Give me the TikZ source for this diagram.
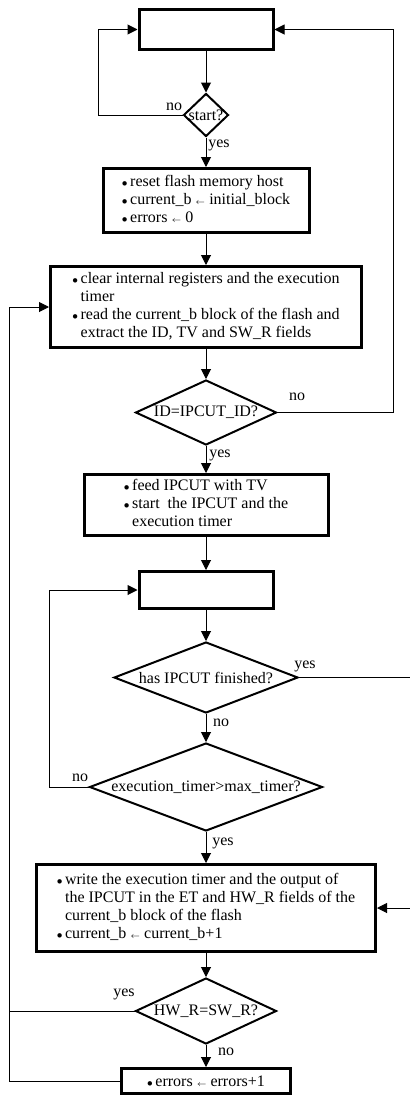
\documentclass[tikz,border=0pt]{standalone}
\usepackage{fontspec}
\setmainfont{Liberation Serif}
\usetikzlibrary{shapes.geometric,arrows.meta}
\def\dotitem{$\scriptstyle\bullet$}
\def\getsto{$\scriptscriptstyle\leftarrow$}

\begin{document}
\begin{tikzpicture}[x=0.75pt,y=-0.75pt,
	every node/.style={font=\fontsize{12}{13.5}\selectfont},
	stepbox/.style={draw,line width=2.25pt,inner sep=0pt},
	test/.style={draw,diamond,line width=1.5pt,inner sep=0pt},
	flow/.style={line width=0.75pt,-{Triangle[length=7.5pt,width=7.5pt]}},
	link/.style={line width=0.75pt}]
	\useasboundingbox (0,0) rectangle (410,1096);
	\coordinate (leftrail) at (98,0);
	\coordinate (rightrail) at (393,0);
	\coordinate (waitrail) at (49,0);
	\coordinate (donerail) at (412,0);
	\coordinate (outerrail) at (9,0);

	\node[stepbox,minimum width=100.5pt,minimum height=30pt] (idle) at (206,29.5) {};
	\node[test,minimum width=33.75pt,minimum height=32.25pt] (start) at (206,115) {\makebox[0pt]{start?}};
	\node[stepbox,minimum width=154.5pt,minimum height=48pt] (init) at (206,200.5) {%
		\begin{tabular}{@{}c@{\,}l@{}}
		\dotitem & reset flash memory host\\
		\dotitem & current\_b \getsto{} initial\_block\\
		\dotitem & errors \getsto{} 0
		\end{tabular}};
	\node[stepbox,minimum width=233.25pt,minimum height=60.75pt] (read) at (206,307) {%
		\begin{tabular}{@{}c@{\,}l@{}}
		\dotitem & clear internal registers and the execution\\
		& timer\\
		\dotitem & read the current\_b block of the flash and\\
		& extract the ID, TV and SW\_R fields
		\end{tabular}};
	\node[test,minimum width=105.75pt,minimum height=48.75pt] (id) at (206,412.5) {\makebox[0pt]{ID=IPCUT\_ID?}};
	\node[stepbox,minimum width=183pt,minimum height=45.75pt] (feed) at (206,505) {%
		\begin{tabular}{@{}c@{\,}l@{}}
		\dotitem & feed IPCUT with TV\\
		\dotitem & start\ \ the IPCUT and the\\
		& execution timer
		\end{tabular}};
	\node[stepbox,minimum width=100.5pt,minimum height=27.75pt] (wait) at (206,590) {};
	\node[test,minimum width=138pt,minimum height=53.25pt] (fin) at (206,677.5) {\makebox[0pt]{has IPCUT finished?}};
	\node[test,minimum width=174.75pt,minimum height=66pt] (exec) at (206,787) {\makebox[0pt]{execution\_timer>max\_timer?}};
	\node[stepbox,minimum width=254.25pt,minimum height=65.25pt] (write) at (206,908) {%
		\begin{tabular}{@{}c@{\,}l@{}}
		\dotitem & write the execution timer and the output of\\
		& the IPCUT in the ET and HW\_R fields of the\\
		& current\_b block of the flash\\
		\dotitem & current\_b \getsto{} current\_b+1
		\end{tabular}};
	\node[test,minimum width=105.75pt,minimum height=49.5pt] (hw) at (206,1011) {\makebox[0pt]{HW\_R=SW\_R?}};
	\node[stepbox,minimum width=126.75pt,minimum height=18.75pt] (err) at (206,1081) {\dotitem\,errors \getsto{} errors+1};

	\node (nostart) at (174,107) {no};
	\node (yesstart) at (219,145) {yes};
	\node (noid) at (297,397) {no};
	\node (yesid) at (220,455) {yes};
	\node (yesfin) at (305,666) {yes};
	\node (nofin) at (221,723) {no};
	\node (noexec) at (80,778) {no};
	\node (yesexec) at (223,843) {yes};
	\node (yeshw) at (124,994) {yes};
	\node (nohw) at (226,1052) {no};

	\draw[flow] (idle) -- (start);
	\draw[flow] (start) -- (init);
	\draw[flow] (init) -- (read);
	\draw[flow] (read) -- (id);
	\draw[flow] (id) -- (feed);
	\draw[flow] (feed) -- (wait);
	\draw[flow] (wait) -- (fin);
	\draw[flow] (fin) -- (exec);
	\draw[flow] (exec) -- (write);
	\draw[flow] (write) -- (hw);
	\draw[flow] (hw) -- (err);
	\draw[flow] (start.west) -- (start.west -| leftrail) |- (idle.west);
	\draw[flow] (id.east) -- (id.east -| rightrail) |- (idle.east);
	\draw[flow] (exec.west) -- (exec.west -| waitrail) |- (wait.west);
	\draw[flow] (fin.east) -- (fin.east -| donerail) |- (write.east);
	\draw[flow] (hw.west) -- (hw.west -| outerrail) |- (read.west);
	\draw[link] (err.west) -| (hw.west -| outerrail);
\end{tikzpicture}
\end{document}
